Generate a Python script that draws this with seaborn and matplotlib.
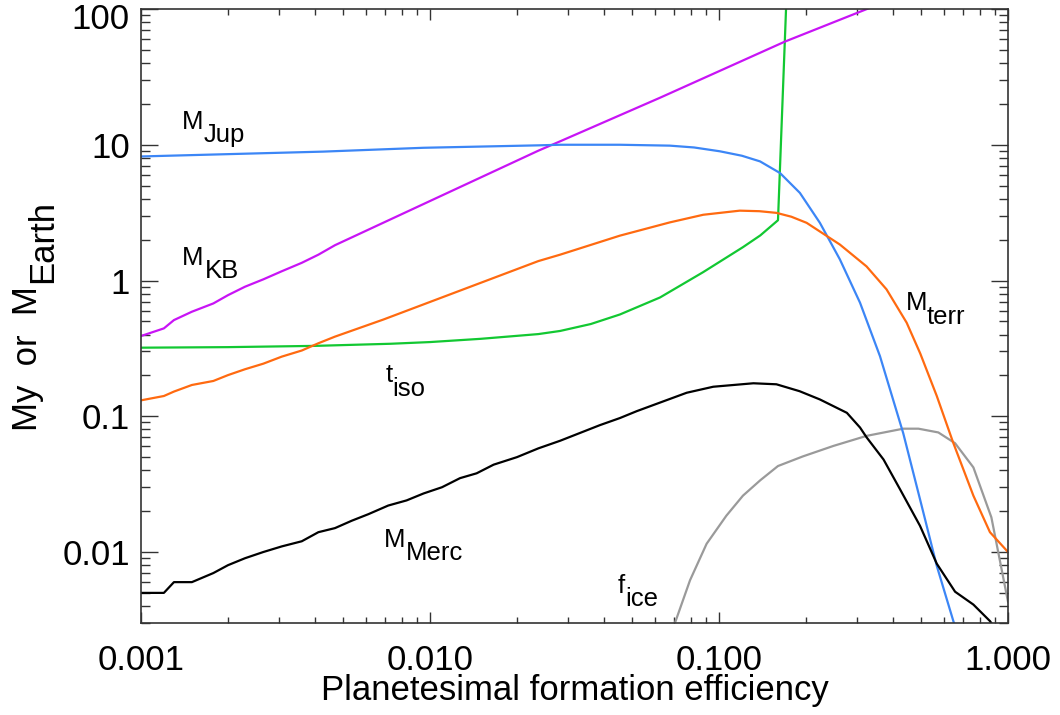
import numpy as np
import pandas as pd
import matplotlib
matplotlib.use("Agg")
import matplotlib.pyplot as plt
import matplotlib.transforms as mtransforms
import seaborn as sns
from matplotlib.ticker import FixedLocator, LogLocator, FuncFormatter, NullFormatter

# ---- data: masses (Earth masses) / time (My) vs planetesimal formation efficiency ----
merc_x = [0.001, 0.0012, 0.0013, 0.0015, 0.00178, 0.002, 0.00229, 0.00265, 0.00307,
          0.0036, 0.00411, 0.00469, 0.00536, 0.00612, 0.00717, 0.0083, 0.0095, 0.011,
          0.0127, 0.0145, 0.0166, 0.020, 0.0237, 0.0282, 0.0387, 0.0454, 0.0519,
          0.0714, 0.0773, 0.0955, 0.1315, 0.158, 0.19, 0.2234, 0.277, 0.3076, 0.324,
          0.371, 0.423, 0.496, 0.567, 0.656, 0.759, 0.866, 1.0]
merc_y = [0.005, 0.005, 0.006, 0.006, 0.007, 0.008, 0.009, 0.010, 0.011,
          0.012, 0.014, 0.015, 0.017, 0.019, 0.022, 0.024, 0.027, 0.030,
          0.035, 0.038, 0.044, 0.050, 0.058, 0.066, 0.086, 0.097, 0.109,
          0.140, 0.149, 0.165, 0.175, 0.172, 0.153, 0.133, 0.106, 0.0826, 0.070,
          0.048, 0.029, 0.0156, 0.0082, 0.0051, 0.0041, 0.0031, 0.002]

jup_x = [0.001, 0.00426, 0.0095, 0.0237, 0.0282, 0.0454, 0.0676, 0.082, 0.1007, 0.12,
         0.1387, 0.1626, 0.1905, 0.2234, 0.262, 0.3076, 0.3606, 0.434, 0.496, 0.567,
         0.65, 0.72]
jup_y = [8.2, 8.9, 9.5, 9.9, 10.0, 10.0, 9.85, 9.55, 8.95, 8.3,
         7.54, 6.19, 4.42, 2.66, 1.43, 0.686, 0.277, 0.075, 0.0245, 0.0079,
         0.003, 0.0012]

terr_x = [0.001, 0.0012, 0.0013, 0.0015, 0.00178, 0.002, 0.00229, 0.00265, 0.00307,
          0.0036, 0.00411, 0.00469, 0.0069, 0.0237, 0.0282, 0.0454, 0.0676, 0.0882,
          0.118, 0.138, 0.158, 0.178, 0.201, 0.262, 0.324, 0.380, 0.446, 0.497,
          0.567, 0.646, 0.759, 0.866, 1.0]
terr_y = [0.131, 0.141, 0.152, 0.170, 0.182, 0.201, 0.222, 0.244, 0.275,
          0.305, 0.345, 0.386, 0.516, 1.39, 1.55, 2.14, 2.68, 3.05,
          3.27, 3.24, 3.15, 2.95, 2.66, 1.84, 1.27, 0.86, 0.489, 0.29,
          0.141, 0.064, 0.026, 0.014, 0.010]

kb_x = [0.001, 0.0012, 0.0013, 0.0015, 0.00178, 0.002, 0.00229, 0.00265, 0.00307,
        0.0036, 0.00411, 0.00469, 0.01026, 0.0237, 0.0282, 0.0625, 0.169, 0.325, 0.40]
kb_y = [0.39, 0.444, 0.511, 0.589, 0.678, 0.78, 0.90, 1.02, 1.17,
        1.35, 1.55, 1.82, 3.95, 9.04, 10.6, 22.2, 57.5, 100, 120]

tiso_x = [0.001, 0.002, 0.004, 0.0073, 0.01, 0.015, 0.0237, 0.0282, 0.036, 0.0454,
          0.0625, 0.088, 0.121, 0.139, 0.160, 0.1706, 0.1717]
tiso_y = [0.320, 0.323, 0.330, 0.342, 0.352, 0.372, 0.403, 0.425, 0.478, 0.562,
          0.75, 1.15, 1.76, 2.15, 2.78, 100, 150]

fice_x = [0.0700, 0.0794, 0.0906, 0.106, 0.121, 0.139, 0.160, 0.195, 0.249, 0.324,
          0.434, 0.490, 0.574, 0.656, 0.759, 0.876, 1.0]
fice_y = [0.0029, 0.0062, 0.0115, 0.0185, 0.026, 0.0338, 0.043, 0.0506, 0.0605, 0.0717,
          0.081, 0.081, 0.076, 0.0633, 0.042, 0.018, 0.0043]

curves = {
    "fice": (fice_x, fice_y, "#9a9a9a"),
    "tiso": (tiso_x, tiso_y, "#12c832"),
    "KB": (kb_x, kb_y, "#c814f5"),
    "Jup": (jup_x, jup_y, "#3c86f6"),
    "terr": (terr_x, terr_y, "#ff6a10"),
    "Merc": (merc_x, merc_y, "#000000"),
}

frames = [pd.DataFrame({"eff": x, "val": y, "curve": name})
          for name, (x, y, _) in curves.items()]
df = pd.concat(frames, ignore_index=True)
palette = {name: c for name, (_, _, c) in curves.items()}

sns.set_theme(style="ticks")
plt.rcParams["font.family"] = ["Liberation Sans", "DejaVu Sans"]

W, H = 1060, 715
FS = 25
fig = plt.figure(figsize=(W / 100, H / 100), dpi=100)
fig.patch.set_facecolor("white")


def fx(px):
    return px / W


def fy(py):
    return 1 - py / H


ax = fig.add_axes([fx(141), fy(623), (1008 - 141) / W, (623 - 9) / H])
ax.set_facecolor("white")
ax.set_xscale("log")
ax.set_yscale("log")

sns.lineplot(data=df, x="eff", y="val", hue="curve", palette=palette,
             hue_order=list(curves.keys()), estimator=None, sort=True,
             linewidth=1.6, legend=False, ax=ax)

ax.set_xlim(1e-3, 1.0)
ax.set_ylim(3e-3, 100)

ax.xaxis.set_major_locator(FixedLocator([1e-3, 1e-2, 1e-1, 1.0]))
ax.xaxis.set_major_formatter(FuncFormatter(lambda v, p: f"{v:.3f}"))
ax.xaxis.set_minor_locator(LogLocator(base=10, subs=np.arange(2, 10), numticks=20))
ax.xaxis.set_minor_formatter(NullFormatter())
ax.yaxis.set_major_locator(FixedLocator([0.01, 0.1, 1, 10, 100]))
ax.yaxis.set_major_formatter(FuncFormatter(lambda v, p: f"{v:g}"))
ax.yaxis.set_minor_locator(LogLocator(base=10, subs=np.arange(2, 10), numticks=20))
ax.yaxis.set_minor_formatter(NullFormatter())

for s in ax.spines.values():
    s.set_color("#333333")
    s.set_linewidth(1.2)

ax.tick_params(which="both", direction="in", top=True, right=True,
               color="#333333", width=1.0, labelsize=FS, labelcolor="black")
ax.tick_params(axis="x", which="major", length=8, pad=15)
ax.tick_params(axis="x", which="minor", length=4.3)
ax.tick_params(axis="y", which="major", length=12.2, pad=8)
ax.tick_params(axis="y", which="minor", length=6.5)

# keep the top "100" label inside the canvas
top_tick = ax.yaxis.get_major_ticks()[-1]
top_tick.label1.set_transform(
    top_tick.label1.get_transform()
    + mtransforms.ScaledTranslation(0, -0.07, fig.dpi_scale_trans))

ax.set_xlabel("Planetesimal formation efficiency", fontsize=FS, labelpad=-2,
              color="black")
ax.set_ylabel("")

# y-axis title with a full-size subscript
ylab_kw = dict(rotation=90, rotation_mode="anchor", ha="left", va="baseline",
               fontsize=FS, color="black")
fig.text(fx(37), fy(431), "My  or  M", **ylab_kw)
fig.text(fx(52), fy(283), "Earth", **ylab_kw)

# curve labels: symbol + lowered subscript
lab_kw = dict(ha="left", va="baseline", fontsize=18.5, color="black")
labels = [
    ("M", "Jup", 182, 129, 204, 142),
    ("M", "KB", 182, 265, 205, 278),
    ("t", "iso", 386, 382, 392, 396),
    ("M", "Merc", 384, 547, 406, 560),
    ("f", "ice", 618, 593, 625, 606),
    ("M", "terr", 906, 310, 927, 324),
]
for main, sub, x0, y0, x1, y1 in labels:
    fig.text(fx(x0), fy(y0), main, **lab_kw)
    fig.text(fx(x1), fy(y1), sub, **lab_kw)

fig.savefig("out.png", dpi=100, facecolor="white")
